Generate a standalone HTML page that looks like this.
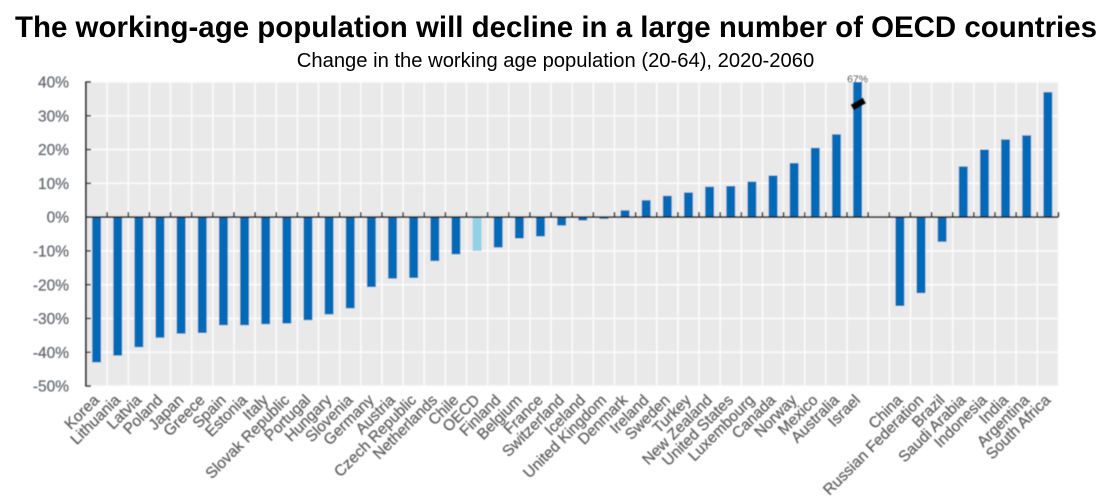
<!DOCTYPE html>
<html lang="en">
<head>
<meta charset="utf-8">
<title>Working-age population change</title>
<style>
html,body{margin:0;padding:0;background:#fff;width:1111px;height:504px;overflow:hidden}
svg{display:block}
text{font-family:"Liberation Sans",Arial,sans-serif}
</style>
</head>
<body>
<svg id="chart" width="1111" height="504" viewBox="0 0 1111 504" xmlns="http://www.w3.org/2000/svg">
  <defs>
    <filter id="soft" x="-5%" y="-5%" width="110%" height="110%"><feGaussianBlur stdDeviation="0.45"/></filter>
  </defs>
  <text x="556" y="37" text-anchor="middle" font-size="26" font-weight="bold" fill="#000" textLength="1082" lengthAdjust="spacingAndGlyphs" style="font-size:29.5px">The working-age population will decline in a large number of OECD countries</text>
  <text x="555.5" y="67" text-anchor="middle" fill="#000" style="font-size:20.2px">Change in the working age population (20-64), 2020-2060</text>
  <g id="plot" filter="url(#soft)"></g>
</svg>
<script>
const categories = ["Korea","Lithuania","Latvia","Poland","Japan","Greece","Spain","Estonia","Italy","Slovak Republic","Portugal","Hungary","Slovenia","Germany","Austria","Czech Republic","Netherlands","Chile","OECD","Finland","Belgium","France","Switzerland","Iceland","United Kingdom","Denmark","Ireland","Sweden","Turkey","New Zealand","United States","Luxembourg","Canada","Norway","Mexico","Australia","Israel","","China","Russian Federation","Brazil","Saudi Arabia","Indonesia","India","Argentina","South Africa"];
const values = [-43,-41,-38.5,-35.7,-34.5,-34.3,-32,-32,-31.7,-31.5,-30.5,-28.8,-27,-20.7,-18.2,-18,-13,-11,-10,-9,-6.3,-5.7,-2.5,-1,-0.5,2,5,6.3,7.3,9,9.2,10.5,12.3,16,20.5,24.5,67,null,-26.3,-22.5,-7.3,15,20,23,24.2,37];
const yTicks = [40,30,20,10,0,-10,-20,-30,-40,-50];
const highlighted = ["OECD"];

const NS = "http://www.w3.org/2000/svg";
const plot = document.getElementById("plot");
const left = 86, right = 1058.4, top_ = 82, bottom = 386;
const yMax = 40, yMin = -50;
const slot = (right - left) / categories.length;
const xScale = i => left + slot * (i + 0.5);
const yScale = v => top_ + (yMax - v) / (yMax - yMin) * (bottom - top_);
const clampV = v => Math.max(yMin, Math.min(yMax, v));

function mk(tag, attrs, parent) {
  const el = document.createElementNS(NS, tag);
  for (const k in attrs) el.setAttribute(k, attrs[k]);
  (parent || plot).appendChild(el);
  return el;
}

const bg = mk("rect", {x: left, y: top_, width: right - left, height: bottom - top_, fill: "#e9e9e9"});



yTicks.forEach(t => {
  const g = mk("line", {x1: left, x2: right, y1: yScale(t), y2: yScale(t), stroke: "#fbfbfb", "stroke-width": 1.6});
  
  
});
categories.forEach((c, i) => {
  const g = mk("line", {x1: left + slot * (i + 1), x2: left + slot * (i + 1), y1: top_, y2: bottom, stroke: "#fbfbfb", "stroke-width": 1.6});
  
  
});

categories.forEach((c, i) => {
  const v = values[i];
  if (v === null) return;
  const y0 = yScale(0), y1 = yScale(clampV(v));
  const b = mk("rect", {x: xScale(i) - 4.4, y: Math.min(y0, y1), width: 8.8, height: Math.abs(y1 - y0), fill: highlighted.includes(c) ? "#93d1e6" : "#006ab8"});
  
  
});

const axisY = mk("line", {x1: left, x2: left, y1: top_ - 0.5, y2: bottom + 0.5, stroke: "#333", "stroke-width": 1.8});


const axisX = mk("line", {x1: left, x2: right, y1: yScale(0), y2: yScale(0), stroke: "#222", "stroke-width": 1.8});



yTicks.forEach(t => {
  const tk = mk("line", {x1: left, x2: left + 5, y1: yScale(t), y2: yScale(t), stroke: "#333", "stroke-width": 1.5});
  
  
  const lb = mk("text", {x: 69, y: yScale(t) + 5.6, "text-anchor": "end", "font-size": 15.5, fill: "#666a72", stroke: "#666a72", "stroke-width": 0.25});
  lb.textContent = t + "%";
  
  
});

categories.forEach((c, i) => {
  const bx = left + slot * (i + 1);
  const tk = mk("line", {x1: bx, x2: bx, y1: yScale(0) - 5, y2: yScale(0), stroke: "#222", "stroke-width": 1.5});
  
  
  if (!c) return;
  const lx = xScale(i) + 3.5, ly = 401;
  const lb = mk("text", {x: lx, y: ly, "text-anchor": "end", "font-size": 15.5, fill: "#5f5f5f", stroke: "#5f5f5f", "stroke-width": 0.25, transform: "rotate(-45 " + lx + " " + ly + ")"});
  lb.textContent = c;
  
  
});

const overflowIndex = values.findIndex(v => v !== null && v > yMax);
if (overflowIndex >= 0) {
  const cx = xScale(overflowIndex);
  const brk = mk("line", {x1: cx - 5.5, x2: cx + 7, y1: 107.5, y2: 100.5, stroke: "#000", "stroke-width": 6.5});
  
  
  const lb = mk("text", {x: cx, y: 82.5, "text-anchor": "middle", "font-size": 10.5, fill: "#555"});
  lb.textContent = values[overflowIndex] + "%";
  
  
}
</script>
</body>
</html>
